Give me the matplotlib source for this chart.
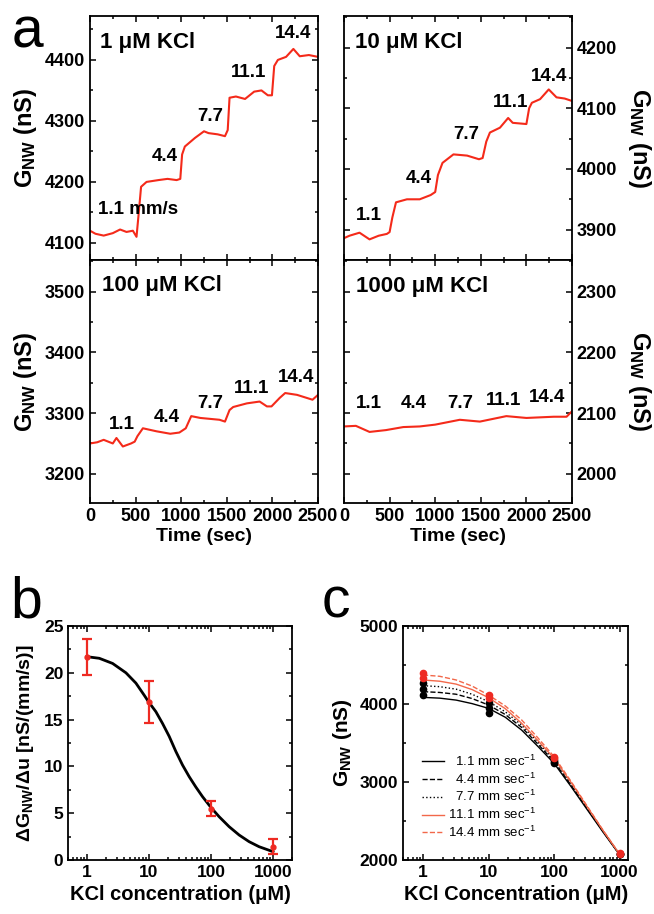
import matplotlib
matplotlib.use('Agg')
import matplotlib.pyplot as plt
import matplotlib.ticker as ticker

plt.rcParams['font.family'] = ['Liberation Sans', 'DejaVu Sans']
plt.rcParams['font.weight'] = 'bold'
plt.rcParams['axes.labelweight'] = 'bold'
plt.rcParams['mathtext.fontset'] = 'custom'
plt.rcParams['mathtext.default'] = 'regular'
plt.rcParams['mathtext.rm'] = 'Liberation Sans:bold'
plt.rcParams['mathtext.bf'] = 'Liberation Sans:bold'
plt.rcParams['axes.linewidth'] = 1.3

# ---- panel a: conductance traces (time in sec, G in nS) ----
time_1uM = [0, 60, 150, 250, 330, 400, 470, 510, 535, 560, 620, 750, 850, 950, 990, 1010, 1040, 1150, 1250,
            1300, 1400, 1480, 1510, 1530, 1600, 1700, 1800, 1880, 1950, 1995, 2020, 2060, 2150, 2230, 2300, 2400, 2500]
g_1uM = [4120, 4115, 4112, 4116, 4122, 4118, 4120, 4110, 4150, 4192, 4200, 4203, 4205, 4203, 4205, 4245, 4258, 4272, 4283,
         4280, 4278, 4275, 4285, 4338, 4340, 4336, 4348, 4350, 4342, 4342, 4390, 4400, 4405, 4418, 4406, 4408, 4405]

time_10uM = [0, 60, 170, 280, 380, 470, 500, 530, 570, 690, 830, 950, 1000, 1030, 1080, 1200, 1350, 1480, 1520,
             1560, 1600, 1710, 1800, 1850, 2000, 2030, 2060, 2150, 2245, 2330, 2420, 2500]
g_10uM = [3886, 3890, 3895, 3884, 3890, 3893, 3896, 3920, 3945, 3950, 3950, 3957, 3962, 3990, 4010, 4024, 4022, 4016, 4018,
          4045, 4060, 4068, 4084, 4076, 4074, 4100, 4109, 4115, 4131, 4118, 4116, 4112]

time_100uM = [0, 80, 150, 250, 290, 360, 450, 490, 520, 580, 730, 880, 980, 1050, 1110, 1210, 1420, 1480, 1530,
              1570, 1720, 1860, 1940, 1990, 2080, 2140, 2270, 2440, 2500]
g_100uM = [3250, 3252, 3256, 3250, 3259, 3245, 3250, 3253, 3262, 3275, 3270, 3266, 3268, 3275, 3295, 3292, 3289, 3286, 3305,
           3310, 3316, 3319, 3311, 3311, 3325, 3333, 3330, 3322, 3330]

time_1000uM = [0, 130, 280, 460, 650, 830, 1000, 1270, 1490, 1780, 2000, 2300, 2440, 2500]
g_1000uM = [2078, 2079, 2069, 2072, 2077, 2078, 2081, 2089, 2086, 2095, 2092, 2094, 2094, 2103]

speed_labels = ['1.1', '4.4', '7.7', '11.1', '14.4']

# ---- panel b: slope vs KCl ----
kcl_b = [1, 10, 100, 1000]
slope = [21.7, 16.9, 5.5, 1.4]
slope_err = [1.9, 2.25, 0.8, 0.8]
fit_conc = [1, 1.58, 2.59, 4.25, 6.15, 8.38, 9.84, 12.9, 16.5, 21.2, 27.1, 34.7, 44.5, 56.9, 72.9,
            99.3, 135, 196, 284, 411, 596, 1000]
fit_slope = [21.72, 21.55, 21.0, 20.0, 18.9, 17.6, 16.9, 15.85, 14.6, 13.2, 11.6, 10.15, 8.9, 7.8, 6.77,
             5.63, 4.63, 3.56, 2.67, 1.96, 1.42, 0.89]

# ---- panel c: G vs KCl for each flow speed ----
kcl_c = [1, 10, 100, 1000]
g_c = {
    '1.1': [4110, 3885, 3240, 2075],
    '4.4': [4190, 3945, 3260, 2077],
    '7.7': [4265, 4015, 3283, 2079],
    '11.1': [4330, 4080, 3305, 2082],
    '14.4': [4400, 4115, 3322, 2085],
}
curve_conc = [1, 1.8, 3.2, 5.6, 10, 18, 32, 56, 100, 180, 320, 560, 1000]
curve_g = {
    '1.1': [4085, 4075, 4050, 4005, 3944, 3830, 3665, 3460, 3239, 2945, 2645, 2355, 2065],
    '4.4': [4158, 4148, 4125, 4070, 3987, 3865, 3700, 3490, 3260, 2962, 2660, 2365, 2068],
    '7.7': [4235, 4222, 4190, 4125, 4030, 3900, 3730, 3515, 3282, 2982, 2670, 2370, 2070],
    '11.1': [4308, 4292, 4255, 4185, 4081, 3940, 3752, 3535, 3303, 2998, 2680, 2375, 2072],
    '14.4': [4372, 4355, 4308, 4230, 4115, 3975, 3795, 3570, 3325, 3012, 2690, 2380, 2075],
}

TRACE = '#f42a1a'
RED = '#ee2a22'
SALMON = '#f2684a'

fig = plt.figure(figsize=(6.54, 9.14), dpi=100)


def style(ax, lsize=12.5):
    ax.tick_params(which='both', direction='in', top=True, right=True, left=True, bottom=True,
                   width=1.1, labelsize=lsize)
    ax.tick_params(which='major', length=4.5)
    ax.tick_params(which='minor', length=2.5)


W = 228 / 654
H_top = 244 / 914
H_bot = 243 / 914
ax_tl = fig.add_axes([90 / 654, 1 - 260 / 914, W, H_top])
ax_tr = fig.add_axes([344 / 654, 1 - 260 / 914, W, H_top])
ax_bl = fig.add_axes([90 / 654, 1 - 503 / 914, W, H_bot])
ax_br = fig.add_axes([344 / 654, 1 - 503 / 914, W, H_bot])

panels = [
    (ax_tl, time_1uM, g_1uM, (4072, 4472), '1 μM KCl', 0.044, 0.89, 'left'),
    (ax_tr, time_10uM, g_10uM, (3850, 4252), '10 μM KCl', 0.048, 0.89, 'right'),
    (ax_bl, time_100uM, g_100uM, (3152, 3552), '100 μM KCl', 0.051, 0.897, 'left'),
    (ax_br, time_1000uM, g_1000uM, (1952, 2352), '1000 μM KCl', 0.053, 0.89, 'right'),
]
label_pos = {
    ax_tl: [(822, 4241), (1323, 4307), (1736, 4380), (2230, 4444)],
    ax_tr: [(268, 3924), (821, 3984), (1345, 4056), (1822, 4109), (2251, 4152)],
    ax_bl: [(347, 3282), (841, 3292), (1316, 3316), (1773, 3340), (2255, 3359)],
    ax_br: [(268, 2115), (762, 2115), (1280, 2115), (1745, 2121), (2225, 2126)],
}

for ax, t, g, ylim, title, tx, ty, side in panels:
    ax.plot(t, g, color=TRACE, lw=1.5)
    ax.set_xlim(0, 2500)
    ax.set_ylim(*ylim)
    style(ax, 13)
    ax.xaxis.set_major_locator(ticker.MultipleLocator(500))
    ax.xaxis.set_minor_locator(ticker.MultipleLocator(250))
    ax.yaxis.set_major_locator(ticker.MultipleLocator(100))
    ax.yaxis.set_minor_locator(ticker.MultipleLocator(50))
    ax.text(tx, ty, title, transform=ax.transAxes, fontsize=16, ha='left', va='center')
    if side == 'right':
        ax.tick_params(which='both', labelleft=False, labelright=True)
        ax.yaxis.set_label_position('right')
        ax.set_ylabel('G$_{NW}$ (nS)', fontsize=17, rotation=270, labelpad=26)
    else:
        ax.set_ylabel('G$_{NW}$ (nS)', fontsize=17, labelpad=4)

for ax in (ax_tl, ax_tr):
    ax.tick_params(which='both', labelbottom=False)
for ax in (ax_bl, ax_br):
    ax.set_xlabel('Time (sec)', fontsize=14, labelpad=2)

ax_tl.text(88, 4154, '1.1 mm/s', fontsize=13.5, ha='left', va='center')
for ax, pos in label_pos.items():
    labs = speed_labels[1:] if ax is ax_tl else speed_labels
    for lab, (x, y) in zip(labs, pos):
        ax.text(x, y, lab, fontsize=13.5, ha='center', va='center')

# ---- panel b ----
ax_b = fig.add_axes([68.3 / 654, 1 - 860 / 914, 223.4 / 654, 234 / 914])
ax_b.plot(fit_conc, fit_slope, color='black', lw=2)
ax_b.errorbar(kcl_b, slope, yerr=slope_err, fmt='o', color=RED, ms=3.5, capsize=3.5,
              elinewidth=1.6, capthick=1.6)
ax_b.set_xscale('log')
ax_b.set_xlim(0.5, 2000)
ax_b.set_ylim(0, 25)
ax_b.yaxis.set_major_locator(ticker.MultipleLocator(5))
ax_b.yaxis.set_minor_locator(ticker.MultipleLocator(2.5))
ax_b.xaxis.set_major_formatter(ticker.FuncFormatter(lambda v, p: '%d' % v))
style(ax_b, 12.5)
ax_b.set_xlabel('KCl concentration (μM)', fontsize=14.5, labelpad=4)
ax_b.set_ylabel('ΔG$_{NW}$/Δu [nS/(mm/s)]', fontsize=14, labelpad=6)

# ---- panel c ----
ax_c = fig.add_axes([403.3 / 654, 1 - 860 / 914, 224.7 / 654, 234 / 914])
line_styles = {'1.1': ('black', '-'), '4.4': ('black', '--'), '7.7': ('black', ':'),
               '11.1': (SALMON, '-'), '14.4': (SALMON, '--')}
dot_colors = {'1.1': 'black', '4.4': 'black', '7.7': 'black', '11.1': RED, '14.4': RED}
for key in speed_labels:
    col, ls = line_styles[key]
    pad = '  ' if len(key) == 3 else ''
    ax_c.plot(curve_conc, curve_g[key], color=col, ls=ls, lw=1.0, label=pad + key + ' mm sec$^{-1}$')
for key in speed_labels:
    ax_c.plot(kcl_c, g_c[key], 'o', color=dot_colors[key], ms=4.5)
ax_c.set_xscale('log')
ax_c.set_xlim(0.5, 1340)
ax_c.set_ylim(2000, 5000)
ax_c.yaxis.set_major_locator(ticker.MultipleLocator(1000))
ax_c.yaxis.set_minor_locator(ticker.MultipleLocator(500))
ax_c.xaxis.set_major_formatter(ticker.FuncFormatter(lambda v, p: '%d' % v))
style(ax_c, 12.5)
ax_c.set_xlabel('KCl Concentration (μM)', fontsize=14.5, labelpad=4)
ax_c.set_ylabel('G$_{NW}$ (nS)', fontsize=15, labelpad=4)
leg = ax_c.legend(loc='center left', bbox_to_anchor=(0.04, 0.27), frameon=False,
                  prop={'family': 'Liberation Sans', 'weight': 'normal', 'size': 9.5},
                  handlelength=1.7, handletextpad=0.3, labelspacing=0.2, borderpad=0.2)

fig.text(12 / 654, 1 - 47 / 914, 'a', fontsize=41, fontweight='normal', va='baseline', ha='left')
fig.text(10 / 654, 1 - 617 / 914, 'b', fontsize=41, fontweight='normal', va='baseline', ha='left')
fig.text(322 / 654, 1 - 617 / 914, 'c', fontsize=41, fontweight='normal', va='baseline', ha='left')

plt.savefig('out.png', dpi=100)
